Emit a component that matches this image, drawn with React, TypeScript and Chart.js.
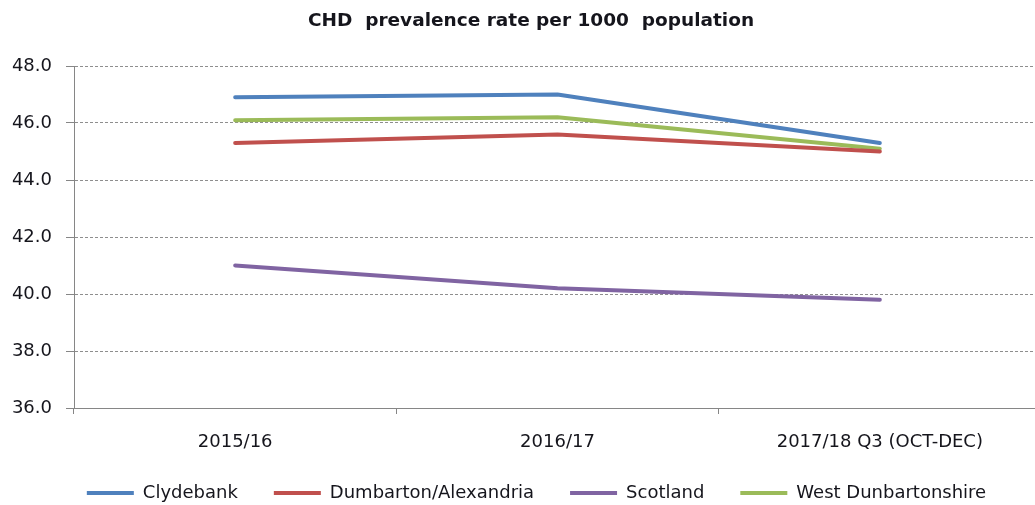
import React, { useEffect, useRef } from "react";
import { Chart, registerables } from "chart.js";

Chart.register(...registerables);

const TITLE = "CHD  prevalence rate per 1000  population";
const categories = ["2015/16", "2016/17", "2017/18 Q3 (OCT-DEC)"];
const clydebank = [46.9, 47.0, 45.3];
const dumbartonAlexandria = [45.3, 45.6, 45.0];
const scotland = [41.0, 40.2, 39.8];
const westDunbartonshire = [46.1, 46.2, 45.1];
const yTicks = [36, 38, 40, 42, 44, 46, 48];

const FONT = "'DejaVu Sans', 'Open Sans', sans-serif";
const TEXT = "#15151c";
const AXIS = "#868686";
const GRID = "#8e8e8e";

// Title drawn above the plot, slightly right of the canvas centre.
const titlePlugin = {
  id: "chdTitle",
  afterDraw(chart: Chart) {
    const ctx = chart.ctx;
    ctx.save();
    ctx.font = `bold 18.5px ${FONT}`;
    ctx.fillStyle = TEXT;
    ctx.textAlign = "center";
    ctx.textBaseline = "middle";
    ctx.fillText(TITLE, 531, 21);
    ctx.restore();
  },
};

// Let the category axis run slightly past the right edge, and sit the
// legend row a little higher and further right.
const layoutTweak = {
  id: "layoutTweak",
  afterLayout(chart: any) {
    const x = chart.scales.x;
    const extra = 6;
    x.right += extra;
    x.width += extra;
    x.configure();
    chart.chartArea.right += extra;
    chart.chartArea.width += extra;
    const lg = chart.legend;
    if (lg) {
      lg.left += 19;
      lg.right += 19;
      lg.top -= 10;
      lg.bottom -= 10;
    }
  },
};

export default function App() {
  const ref = useRef<HTMLCanvasElement | null>(null);

  useEffect(() => {
    document.body.style.margin = "0";
    const canvas = ref.current;
    if (!canvas) return;
    const line = (label: string, data: number[], color: string) => ({
      label,
      data,
      borderColor: color,
      backgroundColor: color,
      borderWidth: 4,
      pointRadius: 0,
      tension: 0,
      fill: false,
      borderJoinStyle: "round" as const,
      borderCapStyle: "round" as const,
    });
    const chart = new Chart(canvas, {
      type: "line",
      data: {
        labels: categories,
        datasets: [
          line("Clydebank", clydebank, "#4F81BD"),
          line("Dumbarton/Alexandria", dumbartonAlexandria, "#C0504D"),
          line("Scotland", scotland, "#8064A2"),
          line("West Dunbartonshire", westDunbartonshire, "#9BBB59"),
        ],
      },
      plugins: [titlePlugin, layoutTweak],
      options: {
        responsive: false,
        animation: false,
        layout: { padding: { left: 0, right: 0, top: 66, bottom: -17 } },
        plugins: {
          title: { display: false },
          legend: {
            position: "bottom",
            labels: {
              color: TEXT,
              font: { family: FONT, size: 18 },
              boxWidth: 47,
              boxHeight: 4,
              padding: 36,
              generateLabels: (c) =>
                c.data.datasets.map((ds, i) => ({
                  text: ds.label as string,
                  fillStyle: ds.borderColor as string,
                  strokeStyle: ds.borderColor as string,
                  lineWidth: 0,
                  hidden: false,
                  datasetIndex: i,
                  fontColor: TEXT,
                })),
            },
          },
          tooltip: { enabled: false },
        },
        scales: {
          x: {
            type: "category",
            offset: true,
            afterFit: (s: any) => {
              s.height = 50;
            },
            grid: {
              offset: true,
              drawOnChartArea: false,
              drawTicks: true,
              tickLength: 6,
              color: AXIS,
            },
            border: { color: AXIS, width: 1 },
            ticks: {
              color: TEXT,
              font: { family: FONT, size: 18 },
              padding: 18,
              maxRotation: 0,
            },
          },
          y: {
            min: 36,
            max: 48,
            afterFit: (s: any) => {
              s.width = 74;
            },
            afterBuildTicks: (s: any) => {
              s.ticks = yTicks.map((v) => ({ value: v }));
            },
            grid: {
              color: GRID,
              tickColor: AXIS,
              tickLength: 8,
              tickBorderDash: [],
              drawTicks: true,
            },
            border: { color: AXIS, width: 1, dash: [3, 2] },
            ticks: {
              color: TEXT,
              font: { family: FONT, size: 18 },
              padding: 14,
              callback: (v: any) => Number(v).toFixed(1),
            },
          },
        },
      },
    });
    return () => chart.destroy();
  }, []);

  return (
    <div style={{ position: "absolute", left: 0, top: 0, width: 1035, height: 505, background: "#fff" }}>
      <canvas ref={ref} width={1035} height={505} />
    </div>
  );
}
